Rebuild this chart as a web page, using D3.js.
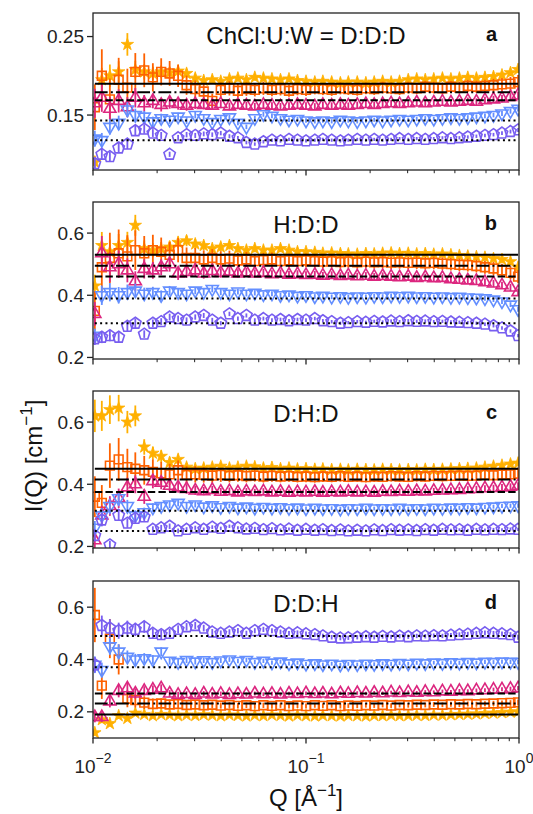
<!DOCTYPE html>
<html>
<head>
<meta charset="utf-8">
<script src="https://d3js.org/d3.v7.min.js"></script>
<title>I(Q) four panels</title>
<style>
body { margin: 0; background: #fff; }
svg { display: block; font-family: "Liberation Sans", Arial, sans-serif; }
</style>
</head>
<body>
<svg width="533" height="814"></svg>
<script>

// Q grid (log spaced)
const qValues = [0.0102, 0.0110, 0.0120, 0.0132, 0.0145, 0.0158, 0.0174, 0.0191, 0.0209, 0.0229,
  0.0251, 0.0275, 0.0302, 0.0331, 0.0363, 0.0398, 0.0437, 0.0479, 0.0525, 0.0575,
  0.0631, 0.0692, 0.0759, 0.0832, 0.0912, 0.100, 0.110, 0.120, 0.132, 0.145,
  0.158, 0.174, 0.191, 0.209, 0.229, 0.251, 0.275, 0.302, 0.331, 0.363,
  0.398, 0.437, 0.479, 0.525, 0.575, 0.631, 0.692, 0.759, 0.832, 0.912, 0.990];

// relative error bar size per Q point
const relErr = [0.14, 0.13, 0.12, 0.11, 0.10, 0.09, 0.08, 0.07, 0.065, 0.06,
  0.055, 0.05, 0.047, 0.044, 0.042, 0.04, 0.038, 0.037, 0.036, 0.035,
  0.035, 0.034, 0.034, 0.033, 0.033, 0.033, 0.032, 0.032, 0.032, 0.032,
  0.031, 0.031, 0.031, 0.031, 0.031, 0.031, 0.031, 0.031, 0.031, 0.031,
  0.031, 0.031, 0.031, 0.032, 0.032, 0.032, 0.033, 0.033, 0.034, 0.035, 0.036];

// panel a : D:D:D
const aStars = [0.090, 0.195, 0.200, 0.205, 0.240, 0.208, 0.205, 0.203, 0.205, 0.204,
  0.206, 0.203, 0.197, 0.194, 0.195, 0.193, 0.196, 0.197, 0.195, 0.198,
  0.197, 0.196, 0.195, 0.196, 0.194, 0.193, 0.192, 0.193, 0.192, 0.191,
  0.192, 0.192, 0.191, 0.192, 0.193, 0.192, 0.193, 0.195, 0.196, 0.195,
  0.196, 0.197, 0.196, 0.197, 0.198, 0.197, 0.198, 0.199, 0.201, 0.204, 0.208];
const aSquares = [0.160, 0.200, 0.170, 0.195, 0.185, 0.205, 0.207, 0.198, 0.205, 0.203,
  0.200, 0.188, 0.183, 0.180, 0.168, 0.182, 0.184, 0.181, 0.183, 0.182,
  0.184, 0.182, 0.183, 0.181, 0.183, 0.182, 0.184, 0.183, 0.182, 0.184,
  0.183, 0.182, 0.184, 0.183, 0.185, 0.184, 0.183, 0.185, 0.184, 0.186,
  0.185, 0.184, 0.186, 0.185, 0.187, 0.186, 0.187, 0.188, 0.189, 0.190, 0.192];
const aUp = [0.165, 0.172, 0.158, 0.168, 0.160, 0.172, 0.165, 0.168, 0.163, 0.166,
  0.164, 0.162, 0.164, 0.163, 0.162, 0.164, 0.161, 0.163, 0.162, 0.161,
  0.163, 0.162, 0.161, 0.162, 0.163, 0.162, 0.161, 0.163, 0.162, 0.163,
  0.162, 0.163, 0.164, 0.163, 0.164, 0.165, 0.164, 0.165, 0.166, 0.165,
  0.166, 0.167, 0.166, 0.167, 0.168, 0.167, 0.169, 0.170, 0.171, 0.173, 0.175];
const aDown = [0.120, 0.118, 0.135, 0.140, 0.157, 0.150, 0.148, 0.142, 0.146, 0.144,
  0.148, 0.143, 0.150, 0.146, 0.141, 0.145, 0.147, 0.140, 0.135, 0.146,
  0.151, 0.149, 0.146, 0.144, 0.145, 0.143, 0.142, 0.143, 0.142, 0.144,
  0.143, 0.142, 0.143, 0.144, 0.143, 0.144, 0.145, 0.144, 0.145, 0.146,
  0.145, 0.146, 0.147, 0.146, 0.147, 0.148, 0.149, 0.150, 0.152, 0.155, 0.158];
const aPent = [0.088, 0.100, 0.097, 0.108, 0.113, 0.130, 0.132, 0.127, 0.124, 0.100,
  0.121, 0.125, 0.124, 0.126, 0.125, 0.127, 0.123, 0.121, 0.115, 0.113,
  0.116, 0.118, 0.117, 0.119, 0.118, 0.117, 0.118, 0.119, 0.118, 0.117,
  0.118, 0.119, 0.118, 0.119, 0.118, 0.119, 0.120, 0.119, 0.120, 0.119,
  0.120, 0.121, 0.120, 0.121, 0.122, 0.123, 0.124, 0.125, 0.127, 0.129, 0.131];

// panel b : H:D:D
const bStars = [0.430, 0.560, 0.540, 0.560, 0.570, 0.625, 0.550, 0.545, 0.550, 0.555,
  0.570, 0.575, 0.565, 0.560, 0.550, 0.555, 0.560, 0.550, 0.545, 0.550,
  0.545, 0.545, 0.550, 0.545, 0.540, 0.540, 0.538, 0.535, 0.536, 0.534,
  0.533, 0.532, 0.534, 0.533, 0.535, 0.536, 0.534, 0.535, 0.533, 0.534,
  0.532, 0.533, 0.530, 0.528, 0.526, 0.524, 0.522, 0.518, 0.515, 0.508, 0.490];
const bSquares = [0.350, 0.490, 0.520, 0.535, 0.525, 0.545, 0.535, 0.545, 0.540, 0.530,
  0.545, 0.520, 0.520, 0.515, 0.520, 0.515, 0.518, 0.512, 0.515, 0.510,
  0.513, 0.515, 0.510, 0.512, 0.510, 0.512, 0.510, 0.508, 0.510, 0.507,
  0.509, 0.506, 0.508, 0.506, 0.507, 0.505, 0.506, 0.504, 0.505, 0.503,
  0.504, 0.502, 0.500, 0.498, 0.497, 0.494, 0.490, 0.486, 0.480, 0.472, 0.460];
const bUp = [0.340, 0.535, 0.490, 0.500, 0.480, 0.445, 0.485, 0.480, 0.490, 0.500,
  0.470, 0.475, 0.480, 0.470, 0.478, 0.472, 0.476, 0.470, 0.474, 0.470,
  0.472, 0.468, 0.470, 0.466, 0.468, 0.465, 0.466, 0.463, 0.465, 0.462,
  0.464, 0.461, 0.463, 0.460, 0.462, 0.460, 0.458, 0.460, 0.456, 0.458,
  0.455, 0.456, 0.452, 0.450, 0.448, 0.446, 0.442, 0.438, 0.432, 0.425, 0.410];
const bDown = [0.270, 0.400, 0.410, 0.400, 0.410, 0.415, 0.405, 0.410, 0.400, 0.415,
  0.410, 0.405, 0.415, 0.410, 0.420, 0.410, 0.405, 0.412, 0.405, 0.408,
  0.403, 0.405, 0.400, 0.402, 0.398, 0.400, 0.396, 0.398, 0.395, 0.397,
  0.394, 0.396, 0.395, 0.397, 0.396, 0.398, 0.397, 0.398, 0.396, 0.397,
  0.395, 0.396, 0.394, 0.395, 0.393, 0.392, 0.390, 0.386, 0.380, 0.370, 0.355];
const bPent = [0.260, 0.265, 0.270, 0.265, 0.300, 0.310, 0.275, 0.310, 0.315, 0.330,
  0.325, 0.320, 0.330, 0.335, 0.320, 0.310, 0.340, 0.325, 0.335, 0.320,
  0.325, 0.320, 0.322, 0.318, 0.322, 0.320, 0.325, 0.318, 0.315, 0.310,
  0.312, 0.315, 0.313, 0.316, 0.314, 0.317, 0.315, 0.318, 0.316, 0.317,
  0.315, 0.316, 0.314, 0.313, 0.312, 0.310, 0.307, 0.302, 0.295, 0.285, 0.270];

// panel c : D:H:D
const cStars = [0.620, 0.620, 0.640, 0.645, 0.600, 0.620, 0.520, 0.500, 0.490, 0.470,
  0.480, 0.455, 0.450, 0.452, 0.455, 0.458, 0.452, 0.455, 0.458, 0.456,
  0.452, 0.454, 0.450, 0.452, 0.449, 0.450, 0.448, 0.449, 0.447, 0.448,
  0.446, 0.448, 0.447, 0.446, 0.448, 0.447, 0.446, 0.447, 0.446, 0.448,
  0.447, 0.448, 0.449, 0.450, 0.451, 0.452, 0.455, 0.458, 0.461, 0.465, 0.468];
const cSquares = [0.360, 0.340, 0.460, 0.480, 0.455, 0.450, 0.445, 0.440, 0.435, 0.432,
  0.445, 0.430, 0.432, 0.430, 0.428, 0.430, 0.427, 0.429, 0.426, 0.428,
  0.425, 0.427, 0.425, 0.426, 0.424, 0.425, 0.423, 0.425, 0.424, 0.426,
  0.424, 0.425, 0.423, 0.425, 0.424, 0.426, 0.425, 0.424, 0.426, 0.425,
  0.427, 0.426, 0.427, 0.428, 0.427, 0.428, 0.430, 0.429, 0.431, 0.432, 0.434];
const cUp = [0.220, 0.300, 0.330, 0.355, 0.390, 0.400, 0.360, 0.410, 0.405, 0.395,
  0.390, 0.385, 0.380, 0.378, 0.382, 0.376, 0.378, 0.374, 0.377, 0.375,
  0.377, 0.374, 0.376, 0.373, 0.375, 0.374, 0.376, 0.373, 0.375, 0.374,
  0.376, 0.374, 0.375, 0.373, 0.376, 0.375, 0.377, 0.376, 0.378, 0.377,
  0.379, 0.380, 0.381, 0.382, 0.384, 0.385, 0.387, 0.388, 0.390, 0.392, 0.395];
const cDown = [0.260, 0.300, 0.330, 0.355, 0.330, 0.300, 0.310, 0.325, 0.330, 0.335,
  0.340, 0.330, 0.335, 0.328, 0.332, 0.326, 0.330, 0.325, 0.328, 0.324,
  0.327, 0.324, 0.326, 0.323, 0.325, 0.322, 0.324, 0.322, 0.323, 0.321,
  0.323, 0.322, 0.324, 0.322, 0.323, 0.322, 0.324, 0.322, 0.323, 0.322,
  0.324, 0.323, 0.325, 0.324, 0.326, 0.325, 0.327, 0.328, 0.330, 0.331, 0.332];
const cPent = [0.235, 0.285, 0.205, 0.300, 0.275, 0.290, 0.295, 0.255, 0.260, 0.265,
  0.250, 0.255, 0.260, 0.255, 0.262, 0.258, 0.265, 0.260, 0.256, 0.258,
  0.254, 0.257, 0.253, 0.256, 0.252, 0.255, 0.252, 0.254, 0.251, 0.253,
  0.250, 0.252, 0.250, 0.253, 0.251, 0.254, 0.252, 0.253, 0.251, 0.254,
  0.252, 0.255, 0.253, 0.254, 0.252, 0.255, 0.253, 0.255, 0.254, 0.256, 0.255];

// panel d : D:D:H
const dStars = [0.120, 0.170, 0.155, 0.185, 0.175, 0.195, 0.190, 0.185, 0.190, 0.188,
  0.185, 0.188, 0.186, 0.189, 0.187, 0.185, 0.188, 0.186, 0.184, 0.187,
  0.185, 0.188, 0.186, 0.184, 0.187, 0.185, 0.184, 0.186, 0.185, 0.184,
  0.186, 0.185, 0.184, 0.186, 0.185, 0.187, 0.185, 0.186, 0.187, 0.186,
  0.188, 0.187, 0.189, 0.190, 0.191, 0.192, 0.194, 0.195, 0.197, 0.199, 0.200];
const dSquares = [0.570, 0.300, 0.480, 0.400, 0.250, 0.245, 0.235, 0.230, 0.232, 0.228,
  0.230, 0.226, 0.228, 0.225, 0.227, 0.224, 0.226, 0.223, 0.225, 0.222,
  0.225, 0.223, 0.225, 0.222, 0.224, 0.222, 0.225, 0.223, 0.225, 0.222,
  0.224, 0.223, 0.225, 0.224, 0.226, 0.224, 0.226, 0.225, 0.227, 0.226,
  0.228, 0.227, 0.229, 0.228, 0.230, 0.229, 0.231, 0.232, 0.233, 0.234, 0.236];
const dUp = [0.180, 0.180, 0.240, 0.280, 0.290, 0.270, 0.280, 0.285, 0.290, 0.270,
  0.265, 0.268, 0.265, 0.270, 0.266, 0.269, 0.265, 0.268, 0.266, 0.270,
  0.267, 0.269, 0.266, 0.270, 0.268, 0.271, 0.268, 0.270, 0.267, 0.271,
  0.269, 0.272, 0.270, 0.273, 0.271, 0.274, 0.272, 0.275, 0.273, 0.276,
  0.275, 0.278, 0.277, 0.280, 0.279, 0.282, 0.283, 0.285, 0.286, 0.288, 0.290];
const dDown = [0.380, 0.360, 0.450, 0.430, 0.410, 0.400, 0.405, 0.400, 0.430, 0.395,
  0.390, 0.398, 0.392, 0.397, 0.390, 0.396, 0.400, 0.394, 0.398, 0.390,
  0.395, 0.388, 0.392, 0.385, 0.388, 0.383, 0.385, 0.381, 0.384, 0.380,
  0.383, 0.381, 0.384, 0.382, 0.385, 0.383, 0.386, 0.384, 0.387, 0.385,
  0.388, 0.386, 0.389, 0.387, 0.390, 0.388, 0.391, 0.390, 0.392, 0.391, 0.390];
const dPent = [0.380, 0.530, 0.520, 0.510, 0.520, 0.515, 0.525, 0.500, 0.495, 0.500,
  0.515, 0.525, 0.530, 0.520, 0.505, 0.500, 0.505, 0.510, 0.500, 0.510,
  0.515, 0.510, 0.505, 0.500, 0.502, 0.498, 0.495, 0.490, 0.485, 0.482,
  0.483, 0.485, 0.487, 0.485, 0.488, 0.486, 0.489, 0.487, 0.490, 0.489,
  0.491, 0.490, 0.493, 0.495, 0.497, 0.500, 0.502, 0.500, 0.498, 0.495, 0.485];

// horizontal reference levels per panel: solid, dash-dot, dashed, dotted, dotted
const aLevels = [0.190, 0.179, 0.169, 0.143, 0.118];
const bLevels = [0.530, 0.495, 0.460, 0.390, 0.310];
const cLevels = [0.450, 0.415, 0.375, 0.315, 0.250];
const dLevels = [0.190, 0.232, 0.270, 0.370, 0.490];

const titles = ["ChCl:U:W = D:D:D", "H:D:D", "D:H:D", "D:D:H"];
const letters = ["a", "b", "c", "d"];
const yDomains = [[0.08, 0.28], [0.195, 0.70], [0.195, 0.70], [0.10, 0.70]];
const yTicks = [[0.15, 0.25], [0.2, 0.4, 0.6], [0.2, 0.4, 0.6], [0.2, 0.4, 0.6]];
const yFormats = [".2f", ".1f", ".1f", ".1f"];
const xTicks = [0.01, 0.1, 1];
const xTickExp = ["\u22122", "\u22121", "0"];

const seriesColors = ["#FFB000", "#FE6100", "#DC267F", "#648FFF", "#785EF0"];
const seriesMarkers = ["star", "square", "up", "down", "pentagon"];
const errScale = [0.6, 1.3, 0.8, 0.6, 0.55];
const levelDash = [null, "12.8,3.2,2,3.2", "7.4,3.2", "2,3.3", "2,3.3"];

const panelData = [
  [aStars, aSquares, aUp, aDown, aPent],
  [bStars, bSquares, bUp, bDown, bPent],
  [cStars, cSquares, cUp, cDown, cPent],
  [dStars, dSquares, dUp, dDown, dPent]
];
const panelLevels = [aLevels, bLevels, cLevels, dLevels];

const left = 93, right = 519;
const panelTops = [13, 202, 391, 581];
const panelH = 157;

const svg = d3.select("svg");
const x = d3.scaleLog().domain([0.01, 1]).range([left, right]);
const minorTicks = x.ticks().filter(function(t) {
  return Math.abs(Math.log10(t) - Math.round(Math.log10(t))) > 1e-6;
});

function polygon(n, r, rot) {
  let pts = [];
  for (let k = 0; k < n; k++) {
    let a = rot + k * 2 * Math.PI / n;
    pts.push([r * Math.cos(a), r * Math.sin(a)]);
  }
  return "M" + pts.map(function(p) { return p[0].toFixed(2) + "," + p[1].toFixed(2); }).join("L") + "Z";
}

const markerPath = {
  star: d3.symbol(d3.symbolStar, 48)(),
  square: polygon(4, 6.2, Math.PI / 4),
  up: polygon(3, 7, -Math.PI / 2),
  down: polygon(3, 7, Math.PI / 2),
  pentagon: polygon(5, 6, -Math.PI / 2)
};

panelData.forEach(function(series, p) {
  const top = panelTops[p];
  const y = d3.scaleLinear().domain(yDomains[p]).range([top + panelH, top]);
  const g = svg.append("g");

  svg.append("clipPath").attr("id", "clip" + p)
    .append("rect").attr("x", left).attr("y", top)
    .attr("width", right - left).attr("height", panelH);

  const plot = g.append("g").attr("clip-path", "url(#clip" + p + ")");

  series.forEach(function(vals, s) {
    const pts = vals.map(function(v, i) { return {q: qValues[i], v: v, e: v * relErr[i] * errScale[s]}; });
    const sg = plot.append("g");
    sg.selectAll("line").data(pts).enter().append("line")
      .attr("x1", function(d) { return x(d.q); })
      .attr("x2", function(d) { return x(d.q); })
      .attr("y1", function(d) { return y(d.v - d.e); })
      .attr("y2", function(d) { return y(d.v + d.e); })
      .attr("stroke", seriesColors[s])
      .attr("stroke-width", 1.8);
    sg.selectAll("path").data(pts).enter().append("path")
      .attr("d", markerPath[seriesMarkers[s]])
      .attr("transform", function(d) { return "translate(" + x(d.q) + "," + y(d.v) + ")"; })
      .attr("fill", seriesMarkers[s] == "star" ? seriesColors[s] : "none")
      .attr("stroke", seriesColors[s])
      .attr("stroke-width", seriesMarkers[s] == "star" ? 0.8 : 1.6);
  });

  // reference levels on top of the data
  panelLevels[p].forEach(function(lv, k) {
    plot.append("line")
      .attr("x1", x(qValues[0])).attr("x2", x(qValues[qValues.length - 1]))
      .attr("y1", y(lv)).attr("y2", y(lv))
      .attr("stroke", "#000")
      .attr("stroke-width", 2)
      .attr("stroke-dasharray", levelDash[k]);
  });

  // frame
  g.append("rect").attr("x", left).attr("y", top)
    .attr("width", right - left).attr("height", panelH)
    .attr("fill", "none").attr("stroke", "#222").attr("stroke-width", 1.3);

  // y ticks
  const yt = g.selectAll(".yt").data(yTicks[p]).enter().append("g");
  yt.append("line")
    .attr("x1", left - 6).attr("x2", left)
    .attr("y1", function(d) { return y(d); }).attr("y2", function(d) { return y(d); })
    .attr("stroke", "#222").attr("stroke-width", 1.3);
  yt.append("text")
    .attr("x", left - 9).attr("y", function(d) { return y(d); })
    .attr("dy", "0.35em")
    .attr("text-anchor", "end")
    .attr("font-size", 19)
    .attr("fill", "#222")
    .text(function(d) { return d3.format(yFormats[p])(d); });

  // x ticks
  const bottom = top + panelH;
  g.selectAll(".xt").data(xTicks).enter().append("line")
    .attr("x1", function(d) { return x(d); }).attr("x2", function(d) { return x(d); })
    .attr("y1", bottom).attr("y2", bottom + 5.5)
    .attr("stroke", "#222").attr("stroke-width", 1.3);
  g.selectAll(".xm").data(minorTicks).enter().append("line")
    .attr("x1", function(d) { return x(d); }).attr("x2", function(d) { return x(d); })
    .attr("y1", bottom).attr("y2", bottom + 3.2)
    .attr("stroke", "#222").attr("stroke-width", 1);

  g.append("text")
    .attr("x", (left + right) / 2).attr("y", top + 31)
    .attr("text-anchor", "middle")
    .attr("font-size", 24)
    .attr("fill", "#111")
    .text(titles[p]);
  g.append("text")
    .attr("x", 497).attr("y", top + 28)
    .attr("text-anchor", "end")
    .attr("font-size", 20)
    .attr("font-weight", "bold")
    .attr("fill", "#111")
    .text(letters[p]);

  if (p == panelData.length - 1) {
    const lab = g.selectAll(".xl").data(xTicks).enter().append("text")
      .attr("x", function(d) { return x(d); })
      .attr("y", bottom + 35)
      .attr("text-anchor", "middle")
      .attr("font-size", 19)
      .attr("fill", "#222");
    lab.append("tspan").text("10");
    lab.append("tspan").attr("dy", -10).attr("font-size", 14)
      .text(function(d, i) { return xTickExp[i]; });
  }
});

// axis titles
const xl = svg.append("text")
  .attr("x", (left + right) / 2).attr("y", 806)
  .attr("text-anchor", "middle").attr("font-size", 24).attr("fill", "#111");
xl.append("tspan").text("Q [\u00C5");
xl.append("tspan").attr("dy", -10).attr("font-size", 17).text("\u22121");
xl.append("tspan").attr("dy", 10).text("]");

const yl = svg.append("text")
  .attr("transform", "translate(42,456) rotate(-90)")
  .attr("text-anchor", "middle").attr("font-size", 24).attr("fill", "#111");
yl.append("tspan").text("I(Q) [cm");
yl.append("tspan").attr("dy", -10).attr("font-size", 17).text("\u22121");
yl.append("tspan").attr("dy", 10).text("]");

</script>
</body>
</html>
